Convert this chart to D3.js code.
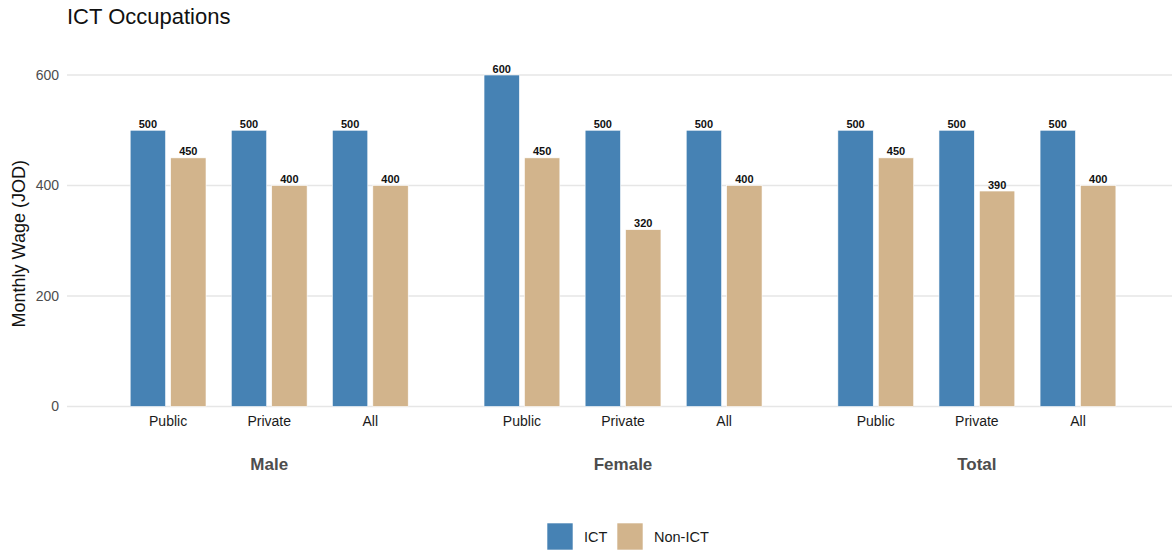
<!DOCTYPE html>
<html>
<head>
<meta charset="utf-8">
<script src="https://cdn.jsdelivr.net/npm/d3@7"></script>
<style>
  html, body { margin: 0; padding: 0; background: #fff; }
  svg { display: block; font-family: "Liberation Sans", Arial, Helvetica, sans-serif; }
</style>
</head>
<body>
<svg id="chart" width="1173" height="552"></svg>
<script>
// Monthly wages (JOD) by gender group and sector
const groups = ["Male", "Female", "Total"];
const sectors = ["Public", "Private", "All"];
const ictWage = [500, 500, 500, 600, 500, 500, 500, 500, 500];
const nonIctWage = [450, 400, 400, 450, 320, 400, 450, 390, 400];
const seriesNames = ["ICT", "Non-ICT"];
const seriesColors = ["#4682B4", "#D2B48C"];
const yTicks = [0, 200, 400, 600];

const svg = d3.select("#chart");

const rows = [];
groups.forEach((g, gi) => {
  sectors.forEach((s, si) => {
    const i = gi * sectors.length + si;
    rows.push({ group: g, sector: s, pos: gi * 3.5 + si + 1, values: [ictWage[i], nonIctWage[i]] });
  });
});

const x = d3.scaleLinear().domain([0, 10.93]).range([67, 1172]);
const y = d3.scaleLinear().domain([0, 600]).range([406.5, 75]);
const unit = x(1) - x(0);
const barW = 0.35 * unit;
const offsets = [-0.2, 0.2];

// Title
svg.append("text").attr("x", 67).attr("y", 24)
  .attr("font-size", 22).attr("fill", "#111").text("ICT Occupations");

// Grid lines
svg.append("g").selectAll("line").data(yTicks).join("line")
  .attr("x1", 67).attr("x2", 1172)
  .attr("y1", d => y(d)).attr("y2", d => y(d))
  .attr("stroke", "#e6e6e6").attr("stroke-width", 1.3);

// Y axis
const yAxis = svg.append("g").attr("transform", "translate(67,0)")
  .call(d3.axisLeft(y).tickValues(yTicks).tickSize(0).tickPadding(8));
yAxis.select(".domain").remove();
yAxis.selectAll("text").attr("font-size", 14).attr("fill", "#4d4d4d")
  .attr("font-family", "Liberation Sans, Arial, sans-serif");

svg.append("text")
  .attr("transform", `translate(25,${(y(0) + y(600)) / 2 + 3}) rotate(-90)`)
  .attr("text-anchor", "middle").attr("font-size", 18).attr("fill", "#111")
  .text("Monthly Wage (JOD)");

// Bars
const barG = svg.append("g");
rows.forEach(r => {
  r.values.forEach((v, k) => {
    const cx = x(r.pos + offsets[k]);
    barG.append("rect")
      .attr("x", cx - barW / 2).attr("width", barW)
      .attr("y", y(v)).attr("height", y(0) - y(v))
      .attr("fill", seriesColors[k])
      .attr("stroke", "#fff").attr("stroke-width", 0.6);
    barG.append("text")
      .attr("x", cx).attr("y", y(v) - 2.5)
      .attr("text-anchor", "middle").attr("font-size", 11)
      .attr("font-weight", "bold").attr("fill", "#111")
      .text(v);
  });
});

// Sector tick labels
svg.append("g").selectAll("text").data(rows).join("text")
  .attr("x", d => x(d.pos)).attr("y", 426)
  .attr("text-anchor", "middle").attr("font-size", 14).attr("fill", "#1a1a1a")
  .text(d => d.sector);

// Group labels
svg.append("g").selectAll("text").data(groups).join("text")
  .attr("x", (d, gi) => x(gi * 3.5 + 2)).attr("y", 470)
  .attr("text-anchor", "middle").attr("font-size", 17).attr("font-weight", "bold")
  .attr("fill", "#4d4d4d")
  .text(d => d);

// Legend
const legend = svg.append("g");
const legendX = [547, 617];
seriesNames.forEach((n, k) => {
  legend.append("rect").attr("x", legendX[k]).attr("y", 523)
    .attr("width", 26).attr("height", 27).attr("fill", seriesColors[k])
    .attr("stroke", "#fff").attr("stroke-width", 0.6);
  legend.append("text").attr("x", legendX[k] + 37).attr("y", 542)
    .attr("font-size", 14.5).attr("fill", "#1a1a1a").text(n);
});
</script>
</body>
</html>
